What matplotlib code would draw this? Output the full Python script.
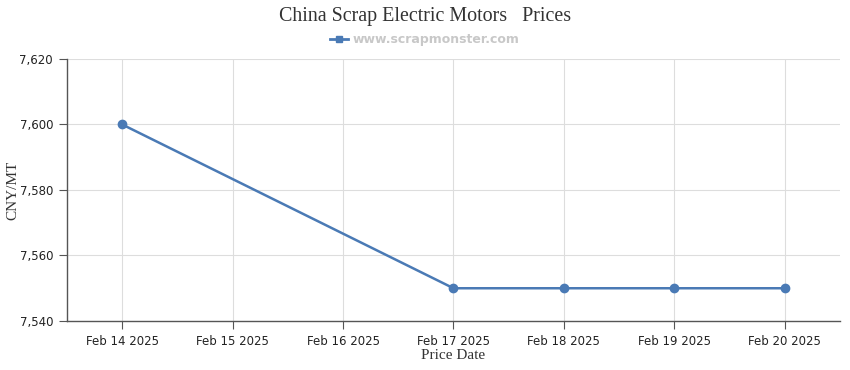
import matplotlib
matplotlib.use("Agg")
import matplotlib.pyplot as plt
from matplotlib.ticker import FuncFormatter, FixedLocator
from matplotlib.lines import Line2D

dates = ["Feb 14 2025", "Feb 15 2025", "Feb 16 2025", "Feb 17 2025",
         "Feb 18 2025", "Feb 19 2025", "Feb 20 2025"]
point_dates = ["Feb 14 2025", "Feb 17 2025", "Feb 18 2025", "Feb 19 2025", "Feb 20 2025"]
prices = [7600, 7550, 7550, 7550, 7550]
yticks = [7540, 7560, 7580, 7600, 7620]

W, H = 850, 370
fig = plt.figure(figsize=(W / 100, H / 100), dpi=100)
L, R, T, B = 67, 840, 59, 321
ax = fig.add_axes([L / W, 1 - B / H, (R - L) / W, (B - T) / H])

color = "#4a7ab5"
xs = [dates.index(d) for d in point_dates]
ax.plot(xs, prices, color=color, lw=1.8, marker="o", ms=6, zorder=3)

ax.set_xlim(-0.5, len(dates) - 0.5)
ax.set_ylim(yticks[0], yticks[-1])
ax.set_xticks(range(len(dates)))
ax.set_xticklabels(dates)
ax.yaxis.set_major_locator(FixedLocator(yticks))
ax.yaxis.set_major_formatter(FuncFormatter(lambda v, p: f"{v:,.0f}"))

ax.grid(True, color="#dddddd", lw=0.8)
ax.set_axisbelow(True)
for s in ["top", "right"]:
    ax.spines[s].set_visible(False)
for s in ["left", "bottom"]:
    ax.spines[s].set_color("#555555")
    ax.spines[s].set_linewidth(1)
ax.tick_params(axis="both", direction="out", length=6, color="#555555",
               labelsize=9, labelcolor="#222222", pad=4)
for lab in ax.get_xticklabels() + ax.get_yticklabels():
    lab.set_family("DejaVu Sans")
    lab.set_fontsize(8.5)

ax.set_xlabel("Price Date", family="Liberation Serif", fontsize=11, color="#333333", labelpad=1)
ax.set_ylabel("CNY/MT", family="Liberation Serif", fontsize=11, color="#333333")
ax.yaxis.set_label_coords((19 - L) / (R - L), 0.5)

fig.text(0.5, 1 - 17 / H, "China Scrap Electric Motors   Prices", ha="center", va="center",
         family="Liberation Serif", fontsize=14.4, color="#333333")
handle = Line2D([], [], color=color, lw=2, marker="s", ms=5)
fig.legend([handle], ["www.scrapmonster.com"], loc="center", bbox_to_anchor=(0.5, 1 - 40 / H),
           frameon=False, handlelength=1.4, handletextpad=0.4,
           prop={"family": "DejaVu Sans", "weight": "bold", "size": 9})
leg = fig.legends[0]
for t in leg.get_texts():
    t.set_color("#c8c8c8")

fig.savefig("out.png", dpi=100)
